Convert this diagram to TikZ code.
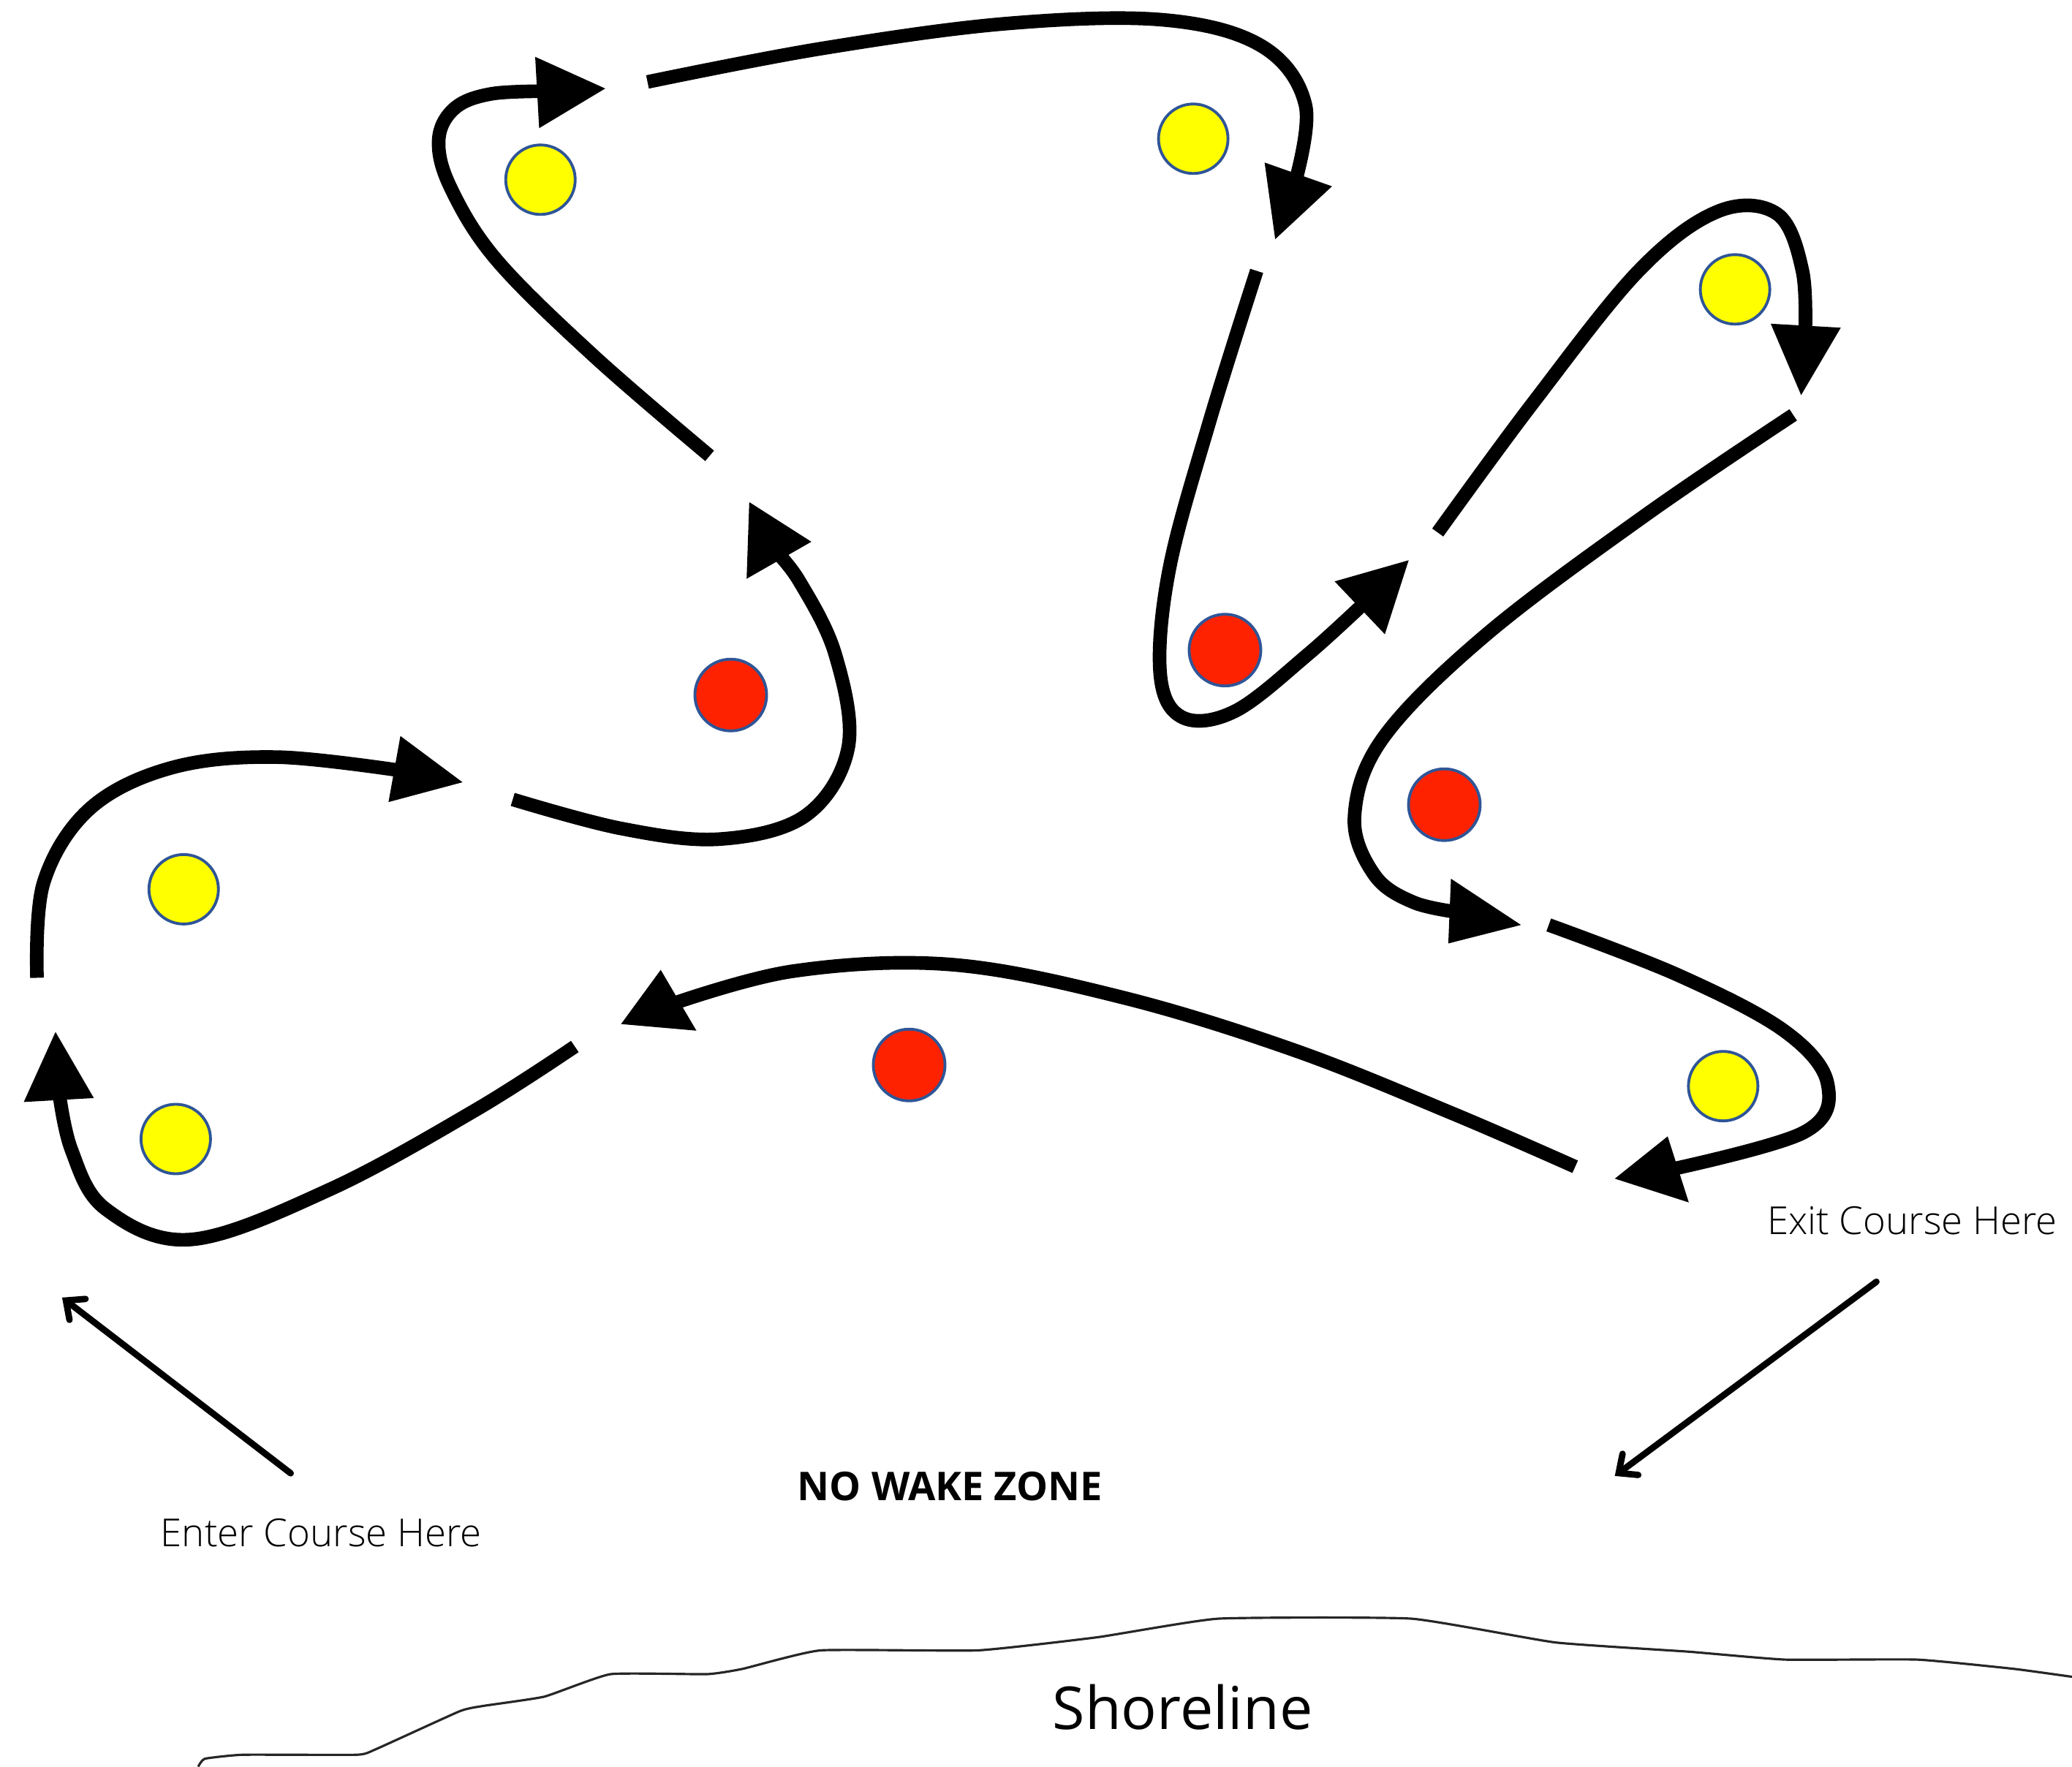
\documentclass[tikz,border=0pt]{standalone}
\usepackage{fontspec}
\setmainfont{Open Sans}
\newfontfamily\lightfont{Open Sans}[UprightFont={* Light}]
\usetikzlibrary{arrows.meta}
\definecolor{buoyY}{HTML}{FFFF00}
\definecolor{buoyR}{HTML}{FF2200}
\definecolor{rim}{HTML}{2F5597}
\begin{document}
\begin{tikzpicture}[x=0.018074cm,y=-0.018074cm,
  course/.style={line width=5.3pt, line cap=butt},
  head/.style={fill=black},
  pointer/.style={line width=2.5pt, line cap=round, -{Straight Barb[length=0.2cm,width=0.36cm,line cap=round]}},
  ybuoy/.style={circle, fill=buoyY, draw=rim, line width=1.1pt, minimum size=0.95cm, inner sep=0pt},
  rbuoy/.style={circle, fill=buoyR, draw=rim, line width=1.1pt, minimum size=0.98cm, inner sep=0pt},
  label/.style={font=\lightfont\fontsize{15}{18}\selectfont, inner sep=0pt},
]
\useasboundingbox (0,0) rectangle (1568,1337);

% buoys
\node[ybuoy] (y1) at (409,136) {};
\node[ybuoy] (y2) at (903,105) {};
\node[ybuoy] (y3) at (1313,219) {};
\node[ybuoy] (y4) at (139,673) {};
\node[ybuoy] (y5) at (133,862) {};
\node[ybuoy] (y6) at (1304,822) {};
\node[rbuoy] (r1) at (553,526) {};
\node[rbuoy] (r2) at (927,492) {};
\node[rbuoy] (r3) at (1093,609) {};
\node[rbuoy] (r4) at (688,806) {};

% course segments (lines)
\draw[course] plot[smooth, tension=0.6] coordinates {(435,792) (360,840) (250,900) (145,938) (80,915) (54,870) (44,822)};
\draw[course] plot[smooth, tension=0.6] coordinates {(28,740) (33,668) (68,612) (130,581) (210,573) (309,584)};
\draw[course] plot[smooth, tension=0.6] coordinates {(388,605) (470,627) (545,635) (610,617) (642,565) (632,495) (605,440) (585,415)};
\draw[course] plot[smooth, tension=0.6] coordinates {(537,345) (450,270) (376,197) (341,142) (332,106) (344,82) (372,71) (417,69)};
\draw[course] plot[smooth, tension=0.6] coordinates {(490,62) (620,37) (760,18) (880,15) (955,35) (988,80) (979,142)};
\draw[course] plot[smooth, tension=0.6] coordinates {(951,205) (915,320) (885,430) (878,510) (895,543) (935,538) (990,495) (1036,453)};
\draw[course] plot[smooth, tension=0.6] coordinates {(1088,403) (1160,305) (1240,205) (1300,160) (1345,162) (1364,205) (1366,257)};
\draw[course] plot[smooth, tension=0.6] coordinates {(1357,314) (1245,390) (1125,480) (1047,558) (1025,618) (1040,662) (1070,683) (1108,691)};
\draw[course] plot[smooth, tension=0.6] coordinates {(1172,700) (1270,738) (1350,780) (1383,820) (1365,857) (1260,886)};
\draw[course] plot[smooth, tension=0.6] coordinates {(1192,883) (1100,843) (980,795) (850,755) (720,730) (600,735) (505,761)};

% course arrowheads
\fill[head] (42,781) -- (18,834) -- (71,831) -- cycle;
\fill[head] (350,592) -- (303,557) -- (294,607) -- cycle;
\fill[head] (567,380) -- (565,438) -- (614,410) -- cycle;
\fill[head] (458,67) -- (405,43) -- (408,97) -- cycle;
\fill[head] (965,181) -- (957,123) -- (1008,141) -- cycle;
\fill[head] (1066,424) -- (1010,440) -- (1048,480) -- cycle;
\fill[head] (1363,299) -- (1340,245) -- (1393,248) -- cycle;
\fill[head] (1151,700) -- (1098,665) -- (1096,714) -- cycle;
\fill[head] (1222,892) -- (1262,860) -- (1278,910) -- cycle;
\fill[head] (470,775) -- (500,734) -- (527,780) -- cycle;

% texts
\node[label] (enter) at (243,1160) {Enter Course Here};
\node[label] (exit) at (1447,924) {Exit Course Here};
\node[font=\bfseries\fontsize{15.4}{18}\selectfont, inner sep=0pt] (nwz) at (719,1125) {NO WAKE ZONE};
\node[font=\fontsize{23}{27}\selectfont, inner sep=0pt] (shore) at (895,1292) {Shoreline};

% pointers
\coordinate (entS) at (220,1115);
\coordinate (entT) at (47,982);
\coordinate (exS) at (1420,970);
\coordinate (exT) at (1222,1117);
\draw[pointer] (entS) -- (entT);
\draw[pointer] (exS) -- (exT);

% shoreline
\draw[line width=0.9pt, black!85, line join=round] plot[smooth, tension=0.25] coordinates {(150,1337) (155,1331) (184,1328) (270,1328) (284,1324) (348,1295) (366,1291) (412,1284) (462,1267) (535,1267) (562,1263) (621,1249) (740,1249) (831,1239) (922,1225) (1068,1225) (1177,1243) (1278,1250) (1351,1256) (1451,1256) (1524,1263) (1568,1269)};
\end{tikzpicture}
\end{document}
